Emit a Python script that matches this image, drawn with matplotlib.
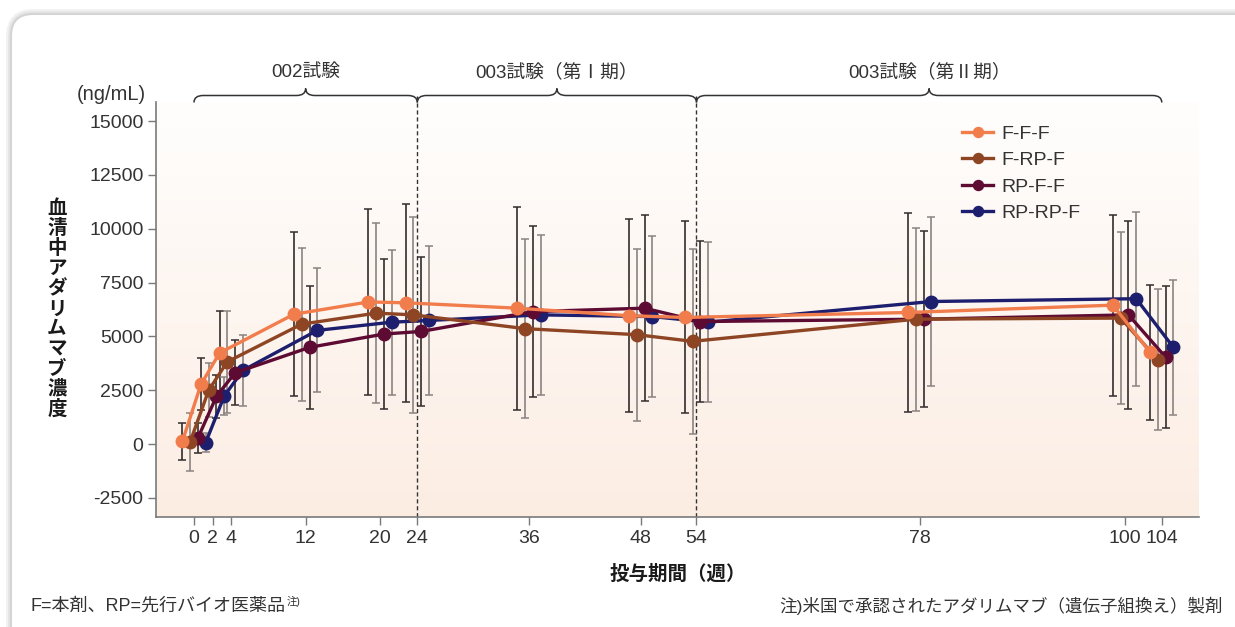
import numpy as np
import matplotlib
matplotlib.use("Agg")
import matplotlib.pyplot as plt
from matplotlib.path import Path
from matplotlib.patches import PathPatch, FancyBboxPatch
from matplotlib.transforms import blended_transform_factory, IdentityTransform

plt.rcParams['font.family'] = ['Liberation Sans', 'Noto Sans CJK JP']
plt.rcParams['axes.unicode_minus'] = False

# 投与期間（週）
weeks = [0, 2, 4, 12, 20, 24, 36, 48, 54, 78, 100, 104]
tick_weeks = [0, 2, 4, 12, 20, 24, 36, 48, 54, 78, 100, 104]

series_names = ['F-F-F', 'F-RP-F', 'RP-F-F', 'RP-RP-F']

# 平均値 (ng/mL)
fff_mean = [120, 2770, 4230, 6030, 6600, 6560, 6310, 5960, 5880, 6110, 6450, 4260]
frpf_mean = [90, 2500, 3820, 5570, 6080, 6000, 5360, 5080, 4770, 5800, 5850, 3920]
rpff_mean = [280, 2220, 3310, 4490, 5110, 5230, 6150, 6310, 5690, 5800, 6000, 4030]
rprpf_mean = [60, 2230, 3420, 5280, 5660, 5740, 6000, 5920, 5660, 6620, 6750, 4490]

# 標準偏差 (ng/mL)
fff_sd = [850, 1210, 1960, 3800, 4320, 4600, 4720, 4490, 4460, 4600, 4200, 3120]
frpf_sd = [1350, 1250, 2370, 3550, 4180, 4540, 4150, 3990, 4280, 4250, 4000, 3260]
rpff_sd = [700, 1000, 1500, 2870, 3490, 3460, 3960, 4310, 3720, 4100, 4380, 3290]
rprpf_sd = [450, 900, 1640, 2880, 3370, 3460, 3730, 3750, 3700, 3940, 4040, 3120]

# 試験区間
periods = [(0, 24, '002試験'), (24, 54, '003試験（第Ⅰ期）'), (54, 104, '003試験（第Ⅱ期）')]
period_breaks = [24, 54]

means = [fff_mean, frpf_mean, rpff_mean, rprpf_mean]
sds = [fff_sd, frpf_sd, rpff_sd, rprpf_sd]
colors = ['#f27d4c', '#8e4524', '#5e0b33', '#1d1f6e']
err_colors = ['#332c2c', '#8a8381', '#332c2c', '#8a8381']
offsets = [-1.25, -0.42, 0.42, 1.25]

W, H = 1235, 627
fig = plt.figure(figsize=(W / 100, H / 100), dpi=100)
fig.patch.set_facecolor('white')

# card outline with a soft shadow
for lw, c in [(7, '#f1f1f1'), (4, '#e4e4e4'), (1.5, '#d4d4d4')]:
    card = FancyBboxPatch((11, -40), W + 40, H + 40 - 14,
                          boxstyle='round,pad=0,rounding_size=22',
                          transform=IdentityTransform(), facecolor='white',
                          edgecolor=c, linewidth=lw, zorder=-10)
    fig.patches.append(card)

ax = fig.add_axes([156 / W, 1 - 517.3 / H, (1199 - 156) / W, (517.3 - 102.3) / H])
ax.set_xlim(-4.08, 108.0)
ax.set_ylim(-3400, 15870)
ax.patch.set_alpha(0)

# background wash: white at the top fading to pale peach
grad = np.linspace(0, 1, 256).reshape(-1, 1)
top_c = np.array([255, 254, 253]) / 255
bot_c = np.array([252, 237, 227]) / 255
img = top_c + (bot_c - top_c) * grad
ax.imshow(img[:, None, :].repeat(2, axis=1), extent=[0, 1, 0, 1], origin='upper',
          transform=ax.transAxes, aspect='auto', zorder=0)

for i in range(4):
    x = np.array(weeks) + offsets[i]
    ax.errorbar(x, means[i], yerr=sds[i], fmt='none', ecolor=err_colors[i],
                elinewidth=1.2, capsize=3, capthick=1.1, zorder=2)

for i in range(4):
    x = np.array(weeks) + offsets[i]
    ax.plot(x, means[i], color=colors[i], lw=2.4, marker='o', ms=9,
            label=series_names[i], zorder=10 - i)

for s in ['top', 'right']:
    ax.spines[s].set_visible(False)
for s in ['left', 'bottom']:
    ax.spines[s].set_color('#7a7a7a')
    ax.spines[s].set_linewidth(1.2)

ax.set_xticks(tick_weeks)
ax.set_xticklabels([str(t) for t in tick_weeks])
ax.set_yticks(np.arange(-2500, 15001, 2500))
ax.tick_params(axis='both', length=6, width=1, color='#7a7a7a',
               labelsize=14, labelcolor='#333333', pad=3)
ax.set_xlabel('投与期間（週）', fontsize=14, fontweight='bold',
              color='#1a1a1a', labelpad=13)

fig.text(146 / W, 1 - 95 / H, '(ng/mL)', ha='right', va='center',
         fontsize=14.5, color='#333333')

ylab = '血清中アダリムマブ濃度'
fig.text(57 / W, 1 - 309 / H, '\n'.join(ylab), ha='center', va='center',
         fontsize=14, fontweight='bold', color='#1a1a1a', linespacing=1.07,
         family='Noto Sans CJK JP')

# study period braces and dashed boundaries
trans = blended_transform_factory(ax.transData, fig.transFigure)
y_bar = 1 - 95.5 / H
y_end = 1 - 102.5 / H
y_tip = 1 - 88.5 / H
r = 1.0
for x0, x1, label in periods:
    xc = (x0 + x1) / 2
    verts = [(x0, y_end), (x0, y_bar), (x0 + r, y_bar),
             (xc - r, y_bar), (xc, y_bar), (xc, y_tip),
             (xc, y_bar), (xc + r, y_bar),
             (x1 - r, y_bar), (x1, y_bar), (x1, y_end)]
    codes = [Path.MOVETO, Path.CURVE3, Path.CURVE3, Path.LINETO,
             Path.CURVE3, Path.CURVE3, Path.CURVE3, Path.CURVE3,
             Path.LINETO, Path.CURVE3, Path.CURVE3]
    ax.add_patch(PathPatch(Path(verts, codes), fill=False, lw=1.1,
                           edgecolor='#333333', transform=trans, clip_on=False))
    ax.text(xc, 1 - 72 / H, label, transform=trans, ha='center', va='center',
            fontsize=13.5, color='#333333')

ax_bottom = 1 - 517.3 / H
for xb in period_breaks:
    ax.plot([xb, xb], [y_bar, ax_bottom], transform=trans, color='#333333',
            lw=1, ls=(0, (3, 2)), clip_on=False, zorder=1)

ax.legend(loc='upper left', bbox_to_anchor=(962 / W, 1 - 125 / H),
          bbox_transform=fig.transFigure, frameon=False, fontsize=14,
          handlelength=1.6, handletextpad=0.4, labelspacing=0.46,
          borderpad=0, borderaxespad=0, markerscale=0.8,
          labelcolor='#333333')

note_l = fig.text(31 / W, 1 - 606 / H, 'F=本剤、RP=先行バイオ医薬品',
                  ha='left', va='center', fontsize=13, color='#333333')
fig.canvas.draw()
bb = note_l.get_window_extent()
fig.text((bb.x1 + 1) / W, 1 - 601 / H, '注)', ha='left', va='center',
         fontsize=7.5, color='#333333')

fig.text(1223 / W, 1 - 606 / H, '注)米国で承認されたアダリムマブ（遺伝子組換え）製剤',
         ha='right', va='center', fontsize=12.6, color='#333333')

fig.savefig('out.png', dpi=100)
